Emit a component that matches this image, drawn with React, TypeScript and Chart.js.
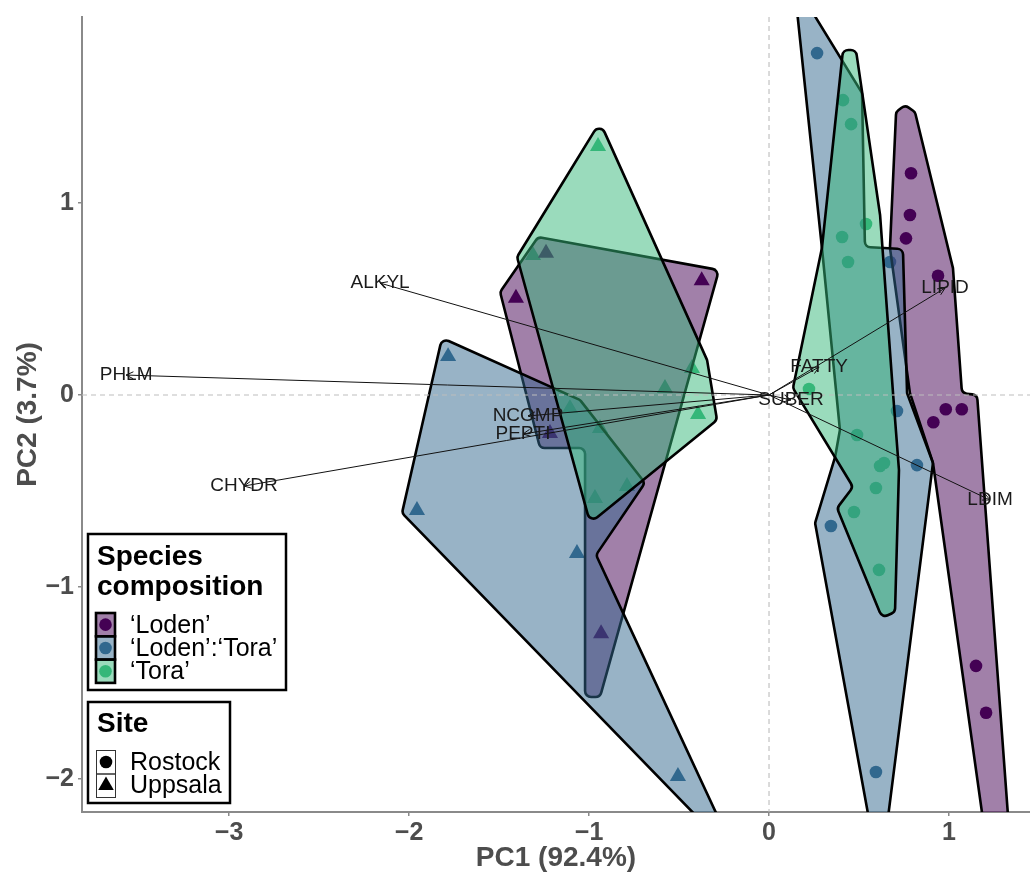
import React, { useEffect, useRef } from 'react';
import { Chart, registerables } from 'chart.js';

Chart.register(...registerables);

const FONT = "'Liberation Sans', Arial, Helvetica, sans-serif";

// ---------- axes ----------
const xTicks = [-3, -2, -1, 0, 1];
const yTicks = [-2, -1, 0, 1];
const xMin = -3.817;
const xMax = 1.45;
const yMin = -2.172;
const yMax = 1.969;

// ---------- legend content ----------
const speciesNames = ['\u2018Loden\u2019', '\u2018Loden\u2019:\u2018Tora\u2019', '\u2018Tora\u2019'];
const speciesColors = ['#440154', '#31688E', '#35B779'];
const speciesFills = ['rgba(68,1,84,0.5)', 'rgba(49,104,142,0.5)', 'rgba(53,183,121,0.5)'];
const siteNames = ['Rostock', 'Uppsala'];

// ---------- scores (PC1, PC2) ----------
const lodenRostockX = [0.789, 0.783, 0.761, 0.939, 0.982, 1.071, 0.913, 1.15, 1.206];
const lodenRostockY = [1.155, 0.938, 0.816, 0.621, -0.074, -0.074, -0.142, -1.411, -1.655];
const lodenUppsalaX = [-1.406, -0.374, -1.239, -1.217, -0.933];
const lodenUppsalaY = [0.505, 0.596, 0.739, -0.2, -1.243];

const mixRostockX = [0.267, 0.672, 0.711, 0.822, 0.344, 0.594];
const mixRostockY = [1.781, 0.693, -0.083, -0.365, -0.682, -1.964];
const mixUppsalaX = [-1.783, -1.956, -1.067, -0.506];
const mixUppsalaY = [0.201, -0.601, -0.825, -1.986];

const toraRostockX = [0.411, 0.456, 0.539, 0.406, 0.439, 0.222, 0.489, 0.617, 0.639, 0.594, 0.472, 0.611];
const toraRostockY = [1.536, 1.411, 0.891, 0.823, 0.693, 0.031, -0.208, -0.37, -0.354, -0.484, -0.609, -0.911];
const toraUppsalaX = [-0.95, -1.311, -0.428, -0.578, -0.394, -1.106, -0.939, -0.789, -0.967];
const toraUppsalaY = [1.295, 0.727, 0.139, 0.035, -0.101, -0.07, -0.174, -0.476, -0.538];

// ---------- hull outlines (PC1, PC2) ----------
const lodenHullAX = [-1.283, -0.278, -0.939, -1.022, -1.022, -1.272, -1.494];
const lodenHullAY = [0.823, 0.651, -1.573, -1.573, -0.276, -0.276, 0.536];
const lodenHullBX = [0.756, 0.811, 1.022, 1.072, 1.156, 1.35, 1.228, 0.911, 0.783, 0.672, 0.706];
const lodenHullBY = [1.51, 1.474, 0.661, 0.01, 0.0, -2.474, -2.474, -0.354, 0.01, 0.766, 1.474];

const mixHullAX = [-1.817, -1.05, -0.689, -0.961, -0.811, -0.178, -2.039];
const mixHullAY = [0.297, -0.026, -0.458, -0.833, -1.135, -2.411, -0.615];
const mixHullBX = [0.139, 0.517, 0.533, 0.744, 0.767, 0.911, 0.617, 0.256, 0.367, 0.394, 0.294];
const mixHullBY = [2.151, 1.573, 0.771, 0.76, 0.01, -0.354, -2.526, -0.667, -0.323, -0.182, 0.766];

const toraHullAX = [-0.939, -0.344, -0.289, -0.994, -1.4];
const toraHullAY = [1.422, 0.182, -0.13, -0.667, 0.719];
const toraHullBX = [0.411, 0.483, 0.617, 0.689, 0.722, 0.7, 0.628, 0.378, 0.467, 0.133, 0.294];
const toraHullBY = [1.797, 1.797, 0.938, 0.01, -0.391, -1.13, -1.161, -0.589, -0.479, 0.036, 0.766];

// ---------- loadings ----------
const loadingNames = ['ALKYL', 'PHLM', 'CHYDR', 'NCOMP', 'PEPTI', 'SUBER', 'FATTY', 'LIPID', 'LDIM'];
const loadingX = [-2.161, -3.572, -2.917, -1.339, -1.367, 0.122, 0.278, 0.978, 1.228];
const loadingY = [0.583, 0.104, -0.474, -0.109, -0.203, -0.026, 0.146, 0.557, -0.547];

const zip = (xs: number[], ys: number[]) => xs.map((x, i) => ({ x, y: ys[i] }));

const hulls = [
  { xs: lodenHullAX, ys: lodenHullAY, s: 0 },
  { xs: lodenHullBX, ys: lodenHullBY, s: 0 },
  { xs: mixHullAX, ys: mixHullAY, s: 1 },
  { xs: mixHullBX, ys: mixHullBY, s: 1 },
  { xs: toraHullAX, ys: toraHullAY, s: 2 },
  { xs: toraHullBX, ys: toraHullBY, s: 2 },
];

function roundedPath(ctx: CanvasRenderingContext2D, pts: number[][], r: number) {
  const n = pts.length;
  const a = pts[n - 1];
  const b = pts[0];
  ctx.moveTo((a[0] + b[0]) / 2, (a[1] + b[1]) / 2);
  for (let i = 0; i < n; i++) {
    const p = pts[i];
    const q = pts[(i + 1) % n];
    ctx.arcTo(p[0], p[1], q[0], q[1], r);
  }
  ctx.closePath();
}

const fmt = (v: any) => {
  const n = Number(v);
  return n < 0 ? '\u2212' + Math.abs(n) : String(n);
};

const overlayPlugin = {
  id: 'overlay',
  afterDatasetsDraw(chart: any) {
    const { ctx, chartArea } = chart;
    const sx = chart.scales.x;
    const sy = chart.scales.y;
    ctx.save();
    ctx.beginPath();
    ctx.rect(chartArea.left, chartArea.top, chartArea.right - chartArea.left, chartArea.bottom - chartArea.top);
    ctx.clip();
    // hulls
    for (const h of hulls) {
      const pts = h.xs.map((x: number, i: number) => [sx.getPixelForValue(x), sy.getPixelForValue(h.ys[i])]);
      ctx.beginPath();
      roundedPath(ctx, pts, 6);
      ctx.fillStyle = speciesFills[h.s];
      ctx.fill();
      ctx.lineWidth = 2.6;
      ctx.strokeStyle = '#000';
      ctx.lineJoin = 'round';
      ctx.stroke();
    }
    // zero reference lines
    const x0 = sx.getPixelForValue(0);
    const y0 = sy.getPixelForValue(0);
    ctx.setLineDash([5, 4]);
    ctx.strokeStyle = '#bdbdbd';
    ctx.lineWidth = 1.1;
    ctx.beginPath();
    ctx.moveTo(chartArea.left, y0);
    ctx.lineTo(chartArea.right, y0);
    ctx.moveTo(x0, chartArea.top);
    ctx.lineTo(x0, chartArea.bottom);
    ctx.stroke();
    ctx.setLineDash([]);
    // loading arrows
    ctx.strokeStyle = '#111';
    ctx.lineWidth = 1;
    for (let i = 0; i < loadingNames.length; i++) {
      const tx = sx.getPixelForValue(loadingX[i]);
      const ty = sy.getPixelForValue(loadingY[i]);
      ctx.beginPath();
      ctx.moveTo(x0, y0);
      ctx.lineTo(tx, ty);
      const ang = Math.atan2(ty - y0, tx - x0);
      const L = 8;
      ctx.moveTo(tx - L * Math.cos(ang - 0.45), ty - L * Math.sin(ang - 0.45));
      ctx.lineTo(tx, ty);
      ctx.lineTo(tx - L * Math.cos(ang + 0.45), ty - L * Math.sin(ang + 0.45));
      ctx.stroke();
    }
    ctx.fillStyle = '#1a1a1a';
    ctx.font = `19px ${FONT}`;
    ctx.textAlign = 'center';
    ctx.textBaseline = 'middle';
    for (let i = 0; i < loadingNames.length; i++) {
      ctx.fillText(loadingNames[i], sx.getPixelForValue(loadingX[i]), sy.getPixelForValue(loadingY[i]));
    }
    ctx.restore();

    // ---------- legends ----------
    ctx.save();
    const lx = chartArea.left + 6;
    // species box
    const b1Top = chartArea.top + 517;
    ctx.fillStyle = '#fff';
    ctx.fillRect(lx, b1Top, 198, 156);
    ctx.strokeStyle = '#000';
    ctx.lineWidth = 2.5;
    ctx.strokeRect(lx, b1Top, 198, 156);
    ctx.fillStyle = '#000';
    ctx.font = `bold 28px ${FONT}`;
    ctx.textAlign = 'left';
    ctx.textBaseline = 'alphabetic';
    ctx.fillText('Species', lx + 9, b1Top + 31);
    ctx.fillText('composition', lx + 9, b1Top + 61);
    const kx = lx + 8;
    const kTop = b1Top + 79;
    const kh = 23.3;
    for (let i = 0; i < 3; i++) {
      const ky = kTop + i * kh;
      ctx.beginPath();
      ctx.fillStyle = speciesColors[i];
      ctx.arc(kx + 9.5, ky + kh / 2, 6.3, 0, Math.PI * 2);
      ctx.fill();
      ctx.fillStyle = speciesFills[i];
      ctx.fillRect(kx, ky, 19, kh);
      ctx.strokeStyle = '#000';
      ctx.lineWidth = 2.6;
      ctx.strokeRect(kx, ky, 19, kh);
      ctx.fillStyle = '#000';
      ctx.font = `25px ${FONT}`;
      ctx.textBaseline = 'middle';
      ctx.fillText(speciesNames[i], lx + 42, ky + kh / 2 + 1);
    }
    // site box
    const b2Top = chartArea.top + 685;
    ctx.fillStyle = '#fff';
    ctx.fillRect(lx, b2Top, 142, 101);
    ctx.strokeStyle = '#000';
    ctx.lineWidth = 2.5;
    ctx.strokeRect(lx, b2Top, 142, 101);
    ctx.fillStyle = '#000';
    ctx.font = `bold 28px ${FONT}`;
    ctx.textBaseline = 'alphabetic';
    ctx.fillText('Site', lx + 9, b2Top + 30);
    const sTop = b2Top + 48;
    for (let i = 0; i < 2; i++) {
      const ky = sTop + i * 23.5;
      ctx.strokeStyle = '#333';
      ctx.lineWidth = 1;
      ctx.strokeRect(kx + 0.5, ky + 0.5, 19, 23.5);
      ctx.fillStyle = '#000';
      const cx = kx + 10;
      const cy = ky + 12;
      ctx.beginPath();
      if (i === 0) {
        ctx.arc(cx, cy, 6.3, 0, Math.PI * 2);
      } else {
        const r = 9;
        ctx.moveTo(cx, cy - r);
        ctx.lineTo(cx + r * 0.866, cy + r * 0.5);
        ctx.lineTo(cx - r * 0.866, cy + r * 0.5);
        ctx.closePath();
      }
      ctx.fill();
      ctx.font = `25px ${FONT}`;
      ctx.textBaseline = 'middle';
      ctx.fillText(siteNames[i], lx + 42, cy + 1);
    }
    ctx.restore();
  },
};

export default function App() {
  const ref = useRef<HTMLCanvasElement | null>(null);
  useEffect(() => {
    if (!ref.current) return;
    const mk = (label: string, xs: number[], ys: number[], s: number, style: string) => ({
      label,
      data: zip(xs, ys),
      pointStyle: style,
      pointRadius: style === 'circle' ? 6.3 : 9.3,
      pointBackgroundColor: speciesColors[s],
      pointBorderWidth: 0,
      pointBorderColor: speciesColors[s],
      showLine: false,
    });
    const chart = new Chart(ref.current, {
      type: 'scatter',
      data: {
        datasets: [
          mk('Loden Rostock', lodenRostockX, lodenRostockY, 0, 'circle'),
          mk('Loden Uppsala', lodenUppsalaX, lodenUppsalaY, 0, 'triangle'),
          mk('Mix Rostock', mixRostockX, mixRostockY, 1, 'circle'),
          mk('Mix Uppsala', mixUppsalaX, mixUppsalaY, 1, 'triangle'),
          mk('Tora Rostock', toraRostockX, toraRostockY, 2, 'circle'),
          mk('Tora Uppsala', toraUppsalaX, toraUppsalaY, 2, 'triangle'),
        ] as any,
      },
      options: {
        animation: false,
        responsive: false,
        layout: { autoPadding: false, padding: { top: 17, left: 0, right: 0, bottom: 0 } },
        plugins: { legend: { display: false }, tooltip: { enabled: false } },
        scales: {
          x: {
            type: 'linear',
            min: xMin,
            max: xMax,
            afterBuildTicks: (s: any) => {
              s.ticks = xTicks.map((v) => ({ value: v }));
            },
            afterFit: (s: any) => {
              s.height = 60;
              s.paddingLeft = 0;
              s.paddingRight = 0;
            },
            grid: { drawOnChartArea: false, drawTicks: true, tickLength: 4, color: '#8a8a8a', lineWidth: 1.5 },
            border: { display: true, color: '#8a8a8a', width: 2 },
            ticks: {
              font: { family: FONT, size: 25, weight: 'bold' },
              color: '#4d4d4d',
              padding: 2,
              maxRotation: 0,
              autoSkip: false,
              callback: fmt,
            },
            title: {
              display: true,
              text: 'PC1 (92.4%)',
              color: '#4d4d4d',
              font: { family: FONT, size: 28, weight: 'bold', lineHeight: 1 },
              padding: { top: 0, bottom: 0 },
            },
          },
          y: {
            type: 'linear',
            min: yMin,
            max: yMax,
            afterBuildTicks: (s: any) => {
              s.ticks = yTicks.map((v) => ({ value: v }));
            },
            afterFit: (s: any) => {
              s.width = 82;
              s.paddingTop = 0;
              s.paddingBottom = 0;
            },
            grid: { drawOnChartArea: false, drawTicks: true, tickLength: 4, color: '#8a8a8a', lineWidth: 1.5 },
            border: { display: true, color: '#8a8a8a', width: 2 },
            ticks: {
              font: { family: FONT, size: 25, weight: 'bold' },
              color: '#4d4d4d',
              padding: 4,
              autoSkip: false,
              callback: fmt,
            },
            title: {
              display: true,
              text: 'PC2 (3.7%)',
              color: '#4d4d4d',
              font: { family: FONT, size: 28, weight: 'bold', lineHeight: 1 },
              padding: { top: 14, bottom: 0 },
            },
          },
        },
      } as any,
      plugins: [overlayPlugin],
    });
    return () => chart.destroy();
  }, []);
  return (
    <div style={{ position: 'absolute', left: 0, top: 0, width: 1030, height: 872, background: '#fff' }}>
      <canvas ref={ref} width={1030} height={872} />
    </div>
  );
}
